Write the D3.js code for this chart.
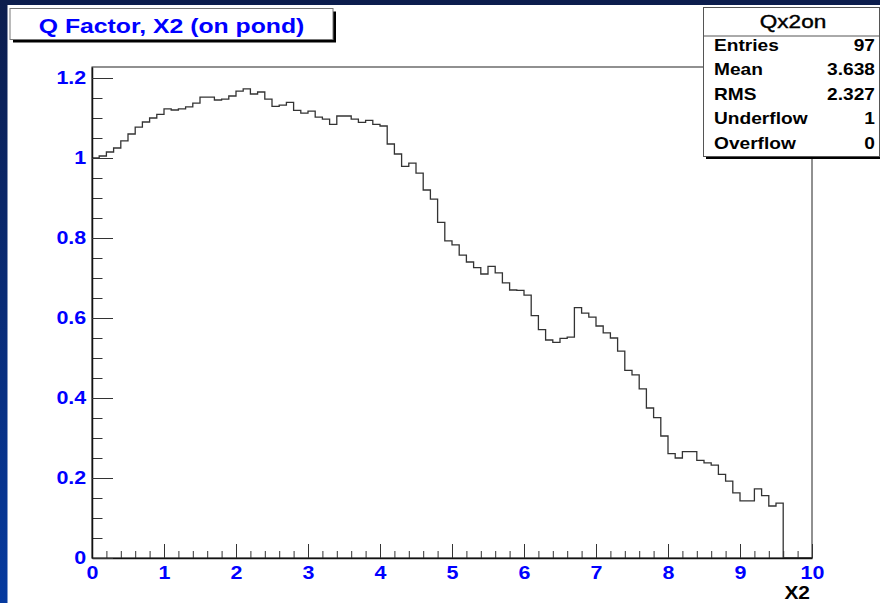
<!DOCTYPE html>
<html lang="en">
  <head>
    <meta charset="UTF-8" />
    <title>Q Factor, X2 (on pond)</title>
    <script src="https://cdn.jsdelivr.net/npm/d3@7"></script>
    <style>
      html, body { margin: 0; padding: 0; }
      svg { display: block; }
      text { font-family: "Liberation Sans", Arial, Helvetica, sans-serif; }
    </style>
  </head>
  <body>
    <div id="svg"></div>
    <script>
      // data: bin contents, 100 bins of width 0.1 from 0 to 10
      const binLow = 0;
      const binWidth = 0.1;
      const binValues = [
        1.000, 1.005, 1.015, 1.025, 1.043, 1.060, 1.077, 1.090, 1.100, 1.109,
        1.123, 1.120, 1.123, 1.128, 1.137, 1.152, 1.152, 1.145, 1.147, 1.155,
        1.167, 1.173, 1.160, 1.165, 1.147, 1.129, 1.132, 1.139, 1.119, 1.112,
        1.117, 1.102, 1.097, 1.084, 1.105, 1.105, 1.097, 1.089, 1.094, 1.084,
        1.080, 1.035, 1.010, 0.979, 0.987, 0.962, 0.920, 0.897, 0.839, 0.793,
        0.783, 0.757, 0.740, 0.726, 0.710, 0.729, 0.713, 0.688, 0.670, 0.669,
        0.657, 0.606, 0.571, 0.545, 0.539, 0.549, 0.552, 0.626, 0.612, 0.602,
        0.580, 0.563, 0.550, 0.517, 0.469, 0.458, 0.423, 0.375, 0.351, 0.305,
        0.261, 0.250, 0.266, 0.266, 0.244, 0.238, 0.232, 0.209, 0.192, 0.163,
        0.143, 0.143, 0.173, 0.156, 0.130, 0.137, 0, 0, 0, 0
      ];
      const xTicks = [0, 1, 2, 3, 4, 5, 6, 7, 8, 9, 10];
      const yTicks = [0, 0.2, 0.4, 0.6, 0.8, 1, 1.2];
      const statLabels = ["Entries", "Mean", "RMS", "Underflow", "Overflow"];
      const statValues = ["97", "3.638", "2.327", "1", "0"];

      const width = 880;
      const height = 603;
      const frame = { left: 92, right: 812, top: 67, bottom: 558 };
      const stretch = 1.16; // glyphs in the picture are a bit wider than Arial

      const x = d3.scaleLinear().domain([0, 10]).range([frame.left, frame.right]);
      const y = d3.scaleLinear().domain([0, 1.2275]).range([frame.bottom, frame.top]);

      const svg = d3.select("#svg")
        .append("svg")
        .attr("width", width)
        .attr("height", height);

      // slide background
      const grad = svg.append("defs").append("linearGradient")
        .attr("id", "bg").attr("x1", 0).attr("y1", 0).attr("x2", 0).attr("y2", 1);
      grad.append("stop").attr("offset", "0%").attr("stop-color", "#0c1d4d");
      grad.append("stop").attr("offset", "100%").attr("stop-color", "#063a9f");
      svg.append("rect").attr("width", width).attr("height", height).attr("fill", "url(#bg)");
      svg.append("rect")
        .attr("x", 7.5).attr("y", 5)
        .attr("width", width - 7.5).attr("height", height - 5)
        .attr("fill", "#fff");

      // frame
      svg.append("rect")
        .attr("x", frame.left).attr("y", frame.top)
        .attr("width", frame.right - frame.left)
        .attr("height", frame.bottom - frame.top)
        .attr("fill", "none")
        .attr("stroke", "#222")
        .attr("stroke-width", 1);

      // histogram outline
      const pts = binValues.map((v, i) => [binLow + i * binWidth, v]);
      pts.push([binLow + binValues.length * binWidth, binValues[binValues.length - 1]]);
      const line = d3.line()
        .x((d) => x(d[0]))
        .y((d) => y(d[1]))
        .curve(d3.curveStepAfter);
      svg.append("path")
        .attr("d", line(pts))
        .attr("fill", "none")
        .attr("stroke", "#333")
        .attr("stroke-width", 1.3);

      // x axis, major and minor ticks point inwards
      const xMinor = d3.range(0, 10.001, 0.2).filter((d) => Math.abs(d - Math.round(d)) > 1e-6);
      svg.append("g")
        .attr("transform", `translate(0,${frame.bottom})`)
        .call(d3.axisBottom(x).tickValues(xMinor).tickSizeInner(-7).tickSizeOuter(0).tickFormat(""))
        .call((g) => g.select(".domain").remove())
        .call((g) => g.selectAll("line").attr("stroke", "#333"));
      const gx = svg.append("g")
        .attr("transform", `translate(0,${frame.bottom})`)
        .call(d3.axisBottom(x).tickValues(xTicks).tickSizeInner(-14).tickSizeOuter(0).tickPadding(8).tickFormat(d3.format("d")));
      gx.select(".domain").attr("stroke", "#111").attr("stroke-width", 1.5);
      gx.selectAll("line").attr("stroke", "#333");
      gx.selectAll("text")
        .attr("fill", "#0000ff")
        .attr("font-size", 18.5)
        .attr("font-weight", "bold")
        .attr("font-family", "'Liberation Sans', Arial, sans-serif")
        .attr("transform", `scale(${stretch},1)`);

      // y axis
      const yMinor = d3.range(0, 1.2001, 0.05).filter((d) => Math.abs(d * 5 - Math.round(d * 5)) > 1e-6);
      svg.append("g")
        .attr("transform", `translate(${frame.left},0)`)
        .call(d3.axisLeft(y).tickValues(yMinor).tickSizeInner(-10.5).tickSizeOuter(0).tickFormat(""))
        .call((g) => g.select(".domain").remove())
        .call((g) => g.selectAll("line").attr("stroke", "#333"));
      const gy = svg.append("g")
        .attr("transform", `translate(${frame.left},0)`)
        .call(d3.axisLeft(y).tickValues(yTicks).tickSizeInner(-21).tickSizeOuter(0).tickPadding(5).tickFormat((d) => d3.format("")(+d.toFixed(1))));
      gy.select(".domain").attr("stroke", "#111").attr("stroke-width", 1.5);
      gy.selectAll("line").attr("stroke", "#333");
      gy.selectAll("text")
        .attr("fill", "#0000ff")
        .attr("font-size", 18.5)
        .attr("font-weight", "bold")
        .attr("font-family", "'Liberation Sans', Arial, sans-serif")
        .attr("transform", `scale(${stretch},1)`);

      // x axis title
      svg.append("text")
        .attr("transform", `translate(810,599) scale(1.1,1)`)
        .attr("text-anchor", "end")
        .attr("font-size", 19)
        .attr("font-weight", "bold")
        .attr("fill", "#000")
        .text("X2");

      // title box
      svg.append("rect")
        .attr("x", 13).attr("y", 11.5).attr("width", 323).attr("height", 31)
        .attr("fill", "#000");
      svg.append("rect")
        .attr("x", 10).attr("y", 8.5).attr("width", 323).attr("height", 31)
        .attr("fill", "#fff").attr("stroke", "#777").attr("stroke-width", 1);
      svg.append("text")
        .attr("transform", `translate(171.5,33) scale(1.18,1)`)
        .attr("text-anchor", "middle")
        .attr("font-size", 21)
        .attr("font-weight", "bold")
        .attr("fill", "#0000ff")
        .text("Q Factor, X2 (on pond)");

      // stats box
      const sb = { x: 703.5, y: 7.5, w: 176, h: 149 };
      svg.append("rect")
        .attr("x", sb.x + 2.5).attr("y", sb.y + 2.5).attr("width", sb.w).attr("height", sb.h)
        .attr("fill", "#000");
      svg.append("rect")
        .attr("x", sb.x).attr("y", sb.y).attr("width", sb.w).attr("height", sb.h)
        .attr("fill", "#fff").attr("stroke", "#555").attr("stroke-width", 1);
      svg.append("line")
        .attr("x1", sb.x).attr("x2", sb.x + sb.w)
        .attr("y1", 36).attr("y2", 36)
        .attr("stroke", "#555");
      svg.append("text")
        .attr("transform", `translate(793,28) scale(1.22,1)`)
        .attr("text-anchor", "middle")
        .attr("font-size", 18.5)
        .attr("font-weight", "normal")
        .attr("stroke", "#000")
        .attr("stroke-width", 0.4)
        .attr("fill", "#000")
        .text("Qx2on");
      const rowY = (i) => 50.8 + i * 24.5;
      svg.selectAll("text.slabel")
        .data(statLabels)
        .enter()
        .append("text")
        .attr("class", "slabel")
        .attr("transform", (d, i) => `translate(714,${rowY(i)}) scale(${stretch},1)`)
        .attr("font-size", 16.5)
        .attr("font-weight", "bold")
        .attr("fill", "#000")
        .text((d) => d);
      svg.selectAll("text.svalue")
        .data(statValues)
        .enter()
        .append("text")
        .attr("class", "svalue")
        .attr("transform", (d, i) => `translate(875,${rowY(i)}) scale(${stretch},1)`)
        .attr("text-anchor", "end")
        .attr("font-size", 16.5)
        .attr("font-weight", "bold")
        .attr("fill", "#000")
        .text((d) => d);
    </script>
  </body>
</html>
